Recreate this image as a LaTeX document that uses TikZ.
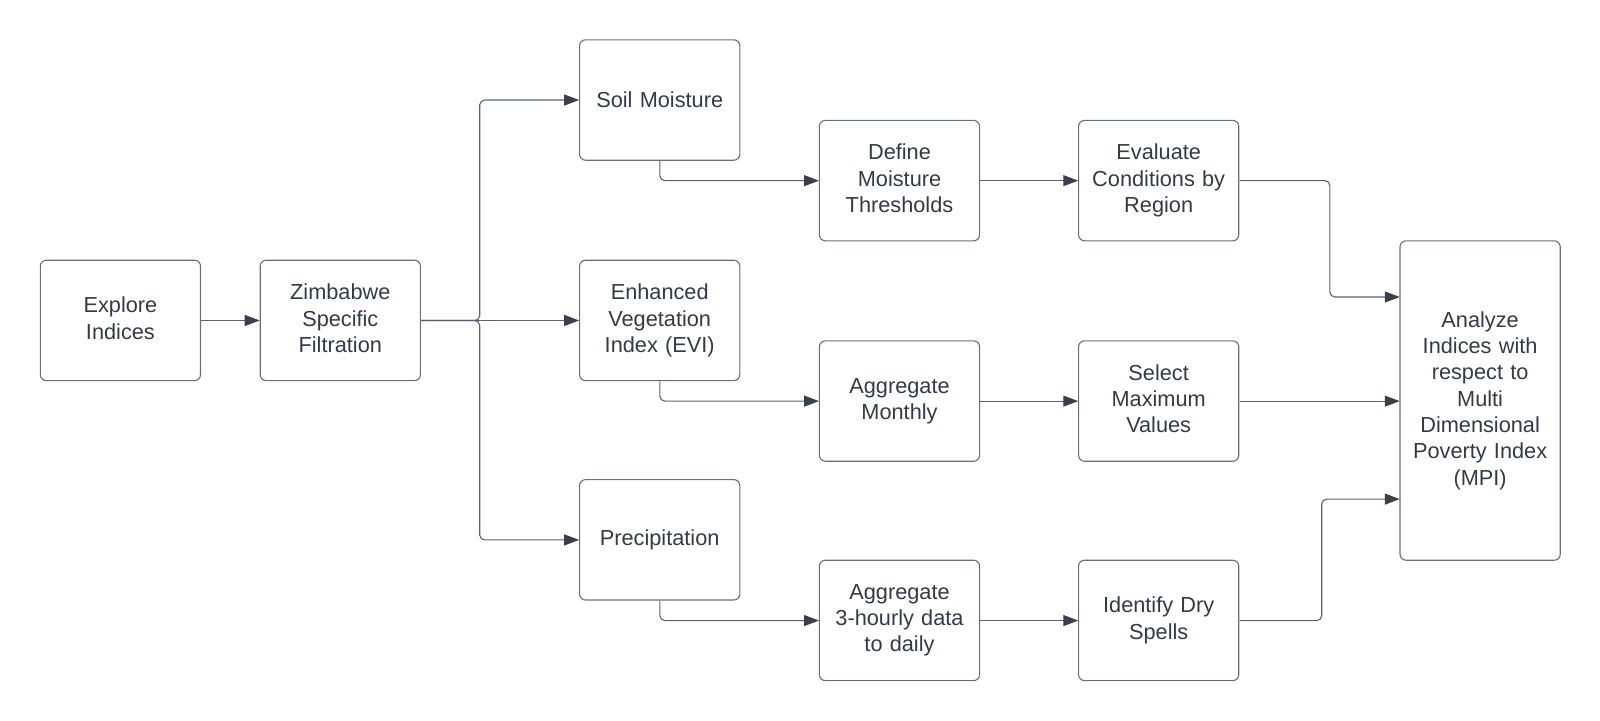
\documentclass[tikz,border=0pt]{standalone}
\usepackage{fontspec}
\setmainfont{Liberation Sans}
\usetikzlibrary{arrows.meta,positioning,calc}
\definecolor{boxline}{HTML}{6A6E75}
\definecolor{conn}{HTML}{5E626A}
\definecolor{tip}{HTML}{3A3F4A}
\definecolor{txt}{HTML}{333A45}
\tikzset{
  box/.style={draw=boxline, line width=1.1pt, rounded corners=6pt, minimum width=157pt, minimum height=118pt, inner sep=0pt, text width=152pt, align=center, font=\fontsize{21.3}{25.8}\selectfont, text=txt},
  conn/.style={draw=conn, line width=1.1pt, rounded corners=5pt, -{Triangle[length=15pt,width=11pt,fill=tip,color=tip]}}
}
\begin{document}
\begin{tikzpicture}[x=1pt,y=-1pt,scale=1.0204,every node/.append style={transform shape}]
\useasboundingbox (0,0) rectangle (1568,705.6);
\node[box] (ex) at (118,314) {Explore\\Indices\vphantom{p}};
\node[box] (zim) at (333.5,314) {Zimbabwe\\Specific\\Filtration\vphantom{p}};
\node[box] (soil) at (646.5,98) {Soil Moisture};
\node[box] (evi) at (646.5,314) {Enhanced\\Vegetation\\Index (EVI)};
\node[box] (pre) at (646.5,529) {Precipitation};
\node[box] (def) at (881.5,177) {Define\\Moisture\\Thresholds\vphantom{p}};
\node[box] (eva) at (1135.5,177) {Evaluate\\Conditions by\\Region};
\node[box] (agm) at (881.5,393) {Aggregate\\Monthly};
\node[box] (sel) at (1135.5,393) {Select\\Maximum\\Values\vphantom{p}};
\node[box] (agd) at (881.5,608) {Aggregate\\3-hourly data\\to daily};
\node[box] (dry) at (1135.5,608) {Identify Dry\\Spells};
\node[box, minimum height=313pt] (ana) at (1450.5,392.5) {Analyze\\Indices with\\respect to\\Multi\\Dimensional\\Poverty Index\\(MPI)};

\coordinate (br) at (470,314);
\coordinate (evaturn) at (1303,177);
\coordinate (dryturn) at (1295,608);
\coordinate (anatop) at (1372,291);
\coordinate (anabot) at (1372,489);

\draw[conn] (ex.east) -- (zim.west);
\draw[conn] (zim.east) -- (br) |- (soil.west);
\draw[conn] (zim.east) -- (evi.west);
\draw[conn] (zim.east) -- (br) |- (pre.west);
\draw[conn] (soil.south) |- (def.west);
\draw[conn] (evi.south) |- (agm.west);
\draw[conn] (pre.south) |- (agd.west);
\draw[conn] (def.east) -- (eva.west);
\draw[conn] (agm.east) -- (sel.west);
\draw[conn] (agd.east) -- (dry.west);
\draw[conn] (eva.east) -- (evaturn) |- (ana.west |- anatop);
\draw[conn] (sel.east) -- (sel.east -| ana.west);
\draw[conn] (dry.east) -- (dryturn) |- (ana.west |- anabot);
\end{tikzpicture}
\end{document}
